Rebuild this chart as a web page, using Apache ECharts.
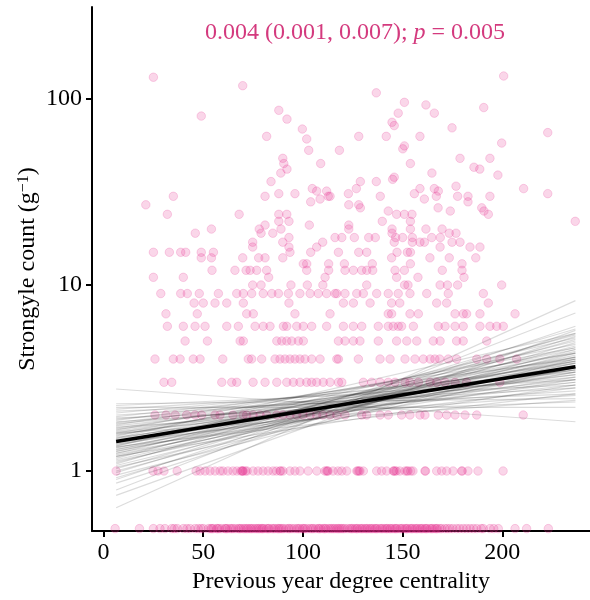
<!DOCTYPE html>
<html>
<head>
<meta charset="utf-8">
<script src="https://cdn.jsdelivr.net/npm/echarts@6/dist/echarts.min.js"></script>
<style>html,body{margin:0;padding:0;background:#fff}#c{width:590px;height:600px}</style>
</head>
<body>
<div id="c"></div>
<script>
// ---- data ----
const xTicks = [0, 50, 100, 150, 200];
const yTicks = [1, 10, 100];
const zeroPlot = 0.49; // zero counts drawn at bottom of the log axis

const count0X = [5.8, 18, 25, 28.3, 30.8, 34.2, 37, 40, 43.4, 45.9, 47.5, 50.1, 52.6, 53.8, 55.1, 56.8, 58, 59.3, 60.9, 62, 63.4, 65.1, 66.3, 67.6, 69, 70.1, 71.8, 72.5, 73.5, 75, 76, 77.6, 78.4, 79.3, 80.5, 81.8, 83, 84.4, 86, 87.2, 88.5, 90.2, 91.5, 92.7, 94.4, 95.6, 96.9, 98.5, 99.8, 101.1, 102.3, 103.6, 105.2, 106.4, 107.7, 109, 110.2, 111.5, 112.7, 113.6, 115.3, 116.1, 117.8, 118.6, 120.2, 121.1, 122.4, 123.6, 125, 126.1, 127.4, 128.6, 130, 131.1, 132.5, 133.6, 135, 136.1, 137.3, 138.6, 140, 141.1, 142.4, 143.6, 145, 146.1, 147.2, 148.6, 150, 151.2, 152.4, 153.7, 155, 156.2, 157.5, 158.7, 160, 161.2, 162.3, 163.7, 165, 166.2, 167.4, 168.7, 171.2, 173.7, 177.1, 180.4, 183.8, 187.2, 190.5, 193.8, 198, 206.4, 212.2, 223.1,
  35.5, 41.8, 48.9, 54.4, 57.2, 61.4, 64.2, 68.3, 70.9, 74.1, 76.9, 79.8, 82.6, 85.2, 87.9, 89.4, 93.3, 97.7, 100.4, 104.5, 108.2, 110.9, 114.4, 117.1, 119.4, 124.3, 126.9, 129.3, 131.8, 134.2, 136.7, 139.3, 141.9, 144.1, 146.7, 149.3, 151.9, 154.4, 156.9, 159.3, 161.8, 164.4, 166.9, 169.5, 172.4, 175.2, 178.6, 182.1, 185.5, 189.4, 195.7];
const count1X = [6.3, 24.8, 27.3, 30.3, 36.9, 46.4, 48.4, 50.9, 53.4, 55.9, 58.4, 59.9, 62.4, 64.9, 66.9, 69.5, 69.8, 70, 72, 75, 77.5, 80, 82.5, 85, 88.5, 88.9, 90, 93.5, 96, 98.5, 102.6, 107, 111, 112.3, 112.6, 115.1, 117.6, 119.5, 122, 127, 127.5, 128.6, 130.3, 137, 139.5, 142, 145.3, 145.6, 146.2, 148.6, 151.2, 152.7, 155.2, 161.2, 161.5, 167.1, 169.6, 172.1, 175.3, 179.6, 179.9, 182.8, 187.8, 200.4,
  68.9, 71.2, 86.7, 111.8, 128.1, 146.9, 152.2, 154.1];
const count2X = [25.8, 31.3, 35.9, 41.7, 45.9, 49.2, 55.9, 58.4, 64.9, 70, 71.8, 75, 78.5, 81.8, 86.9, 90, 93.5, 96.9, 100, 103.6, 106.9, 110, 113.6, 117, 121.1, 129.5, 132, 138.7, 142.8, 149.5, 153.7, 158.7, 161.2, 167.9, 172.1, 176.3, 181.3, 187.2, 210.5];
const count3X = [30.3, 34.2, 59.3, 64.3, 66.8, 75, 81, 86.9, 91.9, 95.2, 98.5, 101.9, 104.4, 106.9, 110.2, 113.6, 117.8, 119.5, 130.3, 134.5, 138.7, 142.8, 146.2, 151.2, 153.7, 157.9, 163.8, 167.1, 171.3, 176.3, 182.1, 198.8];
const count4X = [25.8, 35, 38.4, 45, 48.4, 59.8, 72.6, 74.3, 79.3, 86, 88.5, 91, 93.5, 96, 98.5, 101, 104.4, 108.6, 117, 117.8, 127.8, 138.7, 143.7, 151.2, 156.2, 160.4, 163.8, 166.2, 168.6, 172.9, 177.1, 187.2, 192.2, 198.8, 207.2];
const count5X = [40.9, 52.1, 68.5, 70.1, 86.9, 89.4, 91.9, 94.4, 97.7, 100.2, 117.8, 121.1, 125.3, 128.6, 137.8, 147, 152.1, 157.1, 165.4, 168.8, 177.1, 180.4, 192.2];
const count6X = [32, 40, 45.9, 50.9, 61.8, 67.6, 76, 80.1, 83.5, 90.2, 91.9, 96.9, 100.2, 104.4, 111.9, 120.3, 125.3, 129.5, 137.8, 142.8, 145.3, 147.8, 149.5, 155.4, 167.9, 171.3, 176.3, 180.4, 188.8, 193.8, 197.2, 200.5];
const count7X = [31.3, 47, 71.8, 75.1, 96, 113.6, 142.8, 144.5, 153.7, 157.9, 176.3, 180.4, 182.1, 188.8, 206.4];
const count8X = [45.4, 50, 55.9, 61.8, 70.1, 93, 120.3, 125.3, 133.7, 144.5, 148.6, 167.1, 172.1, 193];
const count9X = [28.7, 38.7, 42, 48, 57.6, 66.8, 70.1, 74.3, 80.1, 84.4, 87.7, 92.7, 98.5, 103.6, 107.7, 111.9, 116.1, 117, 121.1, 127, 130.3, 137, 142.8, 147.8, 153.7, 162.1, 172.9, 190.5];
const count10X = [74.8, 79, 94, 102.2, 110, 132, 151, 152.7, 168.8, 172.5, 177.6, 199.7];

const highX = [25.0, 69.8, 49.0, 87.9, 92.0, 81.8, 99.7, 101.9, 102.9, 118.3, 89.9, 90.4, 92.0, 88.9, 108.9, 84.0, 104.7, 106.9, 111.9, 108.6, 112.7, 103.9, 35.0, 81.0, 87.9, 96.0, 21.2, 32.0, 68.0, 87.9, 91.9, 87.9, 93.0, 81.0, 103.2, 78.1, 46.0, 54.1, 79.0, 84.9, 89.0, 93.0, 89.9, 74.8, 74.8, 109.9, 116.1, 93.0, 106.9,
  25.0, 33.0, 38.7, 41.2, 49.0, 55.1, 93.5, 103.9, 117.8, 49.0, 54.1, 69.8, 77.8, 81.0, 89.9, 100.2, 101.9, 112.9, 54.4, 65.9, 71.5, 73.5, 76.8, 81.8, 101.9, 112.9, 82.8, 111.1, 25.0, 40.0,
  200.7, 136.8, 150.9, 161.7, 190.7, 147.8, 165.9, 144.7, 145.8, 128.0, 141.8, 158.7, 174.8, 222.8, 199.7, 150.9, 150.1, 178.8, 193.8, 153.9, 185.8, 188.7, 164.7, 197.8, 128.8, 136.8, 145.0, 145.8, 126.8, 158.7, 165.9, 167.9, 176.8, 210.7, 222.8, 113.6, 122.8, 138.8, 155.9, 160.9, 166.9, 177.6, 182.8, 182.8, 193.8, 123.0, 128.0, 128.8, 167.8, 189.7, 190.8, 193.0, 142.8, 147.0, 150.9, 154.7, 173.9, 153.9, 139.8, 236.6, 123.0, 123.0, 144.7, 153.9, 161.7, 169.8,
  119.5, 125.8, 133.0, 136.3, 146.5, 150.0, 164.6, 168.9, 154.9, 144.7, 173.4, 176.8, 145.8, 154.9, 158.7, 160.9, 174.8, 178.8, 168.8, 183.8, 188.8, 128.0, 132.0, 147.2, 152.4, 153.9, 144.5, 163.7, 173.4, 186.7, 120.8, 134.8, 153.9, 179.8, 121.1, 125.3, 129.5, 132.0, 135.0, 146.2, 150.9, 169.9, 179.8, 147.0, 157.7, 180.8];
const highY = [131, 118, 81, 87, 78, 63, 69, 61, 53, 53, 48, 45, 42, 40, 45, 36, 33, 32, 32, 29, 30, 28, 30, 30, 31, 31, 27, 24, 24, 24, 24, 22, 22, 21, 21, 20, 19, 20, 19, 19, 20, 18, 17, 17, 16, 17, 18, 16, 16,
  15, 15, 15, 15, 15, 15, 15, 15, 15, 14, 14, 14, 14, 14, 14, 13, 13, 13, 12, 12, 12, 12, 12, 12, 12, 12, 11, 11, 11, 11,
  133, 108, 96, 93, 90, 84, 84, 75, 72, 63, 63, 63, 70, 66, 58, 56, 54, 48, 48, 45, 43, 42, 40, 39, 36, 36, 37, 38, 33, 33, 33, 32, 34, 33, 31, 30, 31, 30, 31, 29, 30, 30, 30, 28, 30, 27, 27, 26, 26, 26, 25, 24, 25, 24, 24, 24, 25, 22, 22, 22, 21, 20, 20, 20, 20, 20,
  18, 18, 18, 18, 18, 18, 18, 18, 18, 19, 19, 19, 17, 17, 17, 17, 17, 17, 16, 16, 16, 15, 15, 15, 15, 15, 14, 14, 14, 14, 13, 13, 13, 13, 12, 12, 12, 12, 12, 12, 12, 12, 12, 11, 11, 11];

// fitted lines (value at left end, value at right end)
const lineX = [6.3, 236.7];
const meanLine = [1.44, 3.64];
const drawLeft = [2.76, 2.3, 2.25, 2.2, 2.15, 2.1, 2.05, 2.0, 1.96, 1.93, 1.9, 1.87, 1.84, 1.82, 1.8, 1.77, 1.75, 1.72, 1.7, 1.68, 1.66, 1.64, 1.62, 1.6, 1.58, 1.56, 1.54, 1.52, 1.5, 1.48, 1.46, 1.45, 1.43, 1.42, 1.4, 1.39, 1.37, 1.36, 1.34, 1.33, 1.31, 1.3, 1.28, 1.27, 1.25, 1.24, 1.22, 1.2, 1.19, 1.17, 1.15, 1.13, 1.11, 1.09, 1.07, 1.05, 1.03, 1.0, 0.98, 0.95, 0.92, 0.9, 0.86, 0.79, 0.74, 0.635, 1.6, 1.35, 1.5, 1.2];
const drawRight = [1.84, 2.45, 2.9, 2.2, 3.1, 2.6, 3.4, 2.8, 3.6, 2.35, 3.2, 4.0, 2.7, 3.5, 3.0, 4.3, 3.3, 2.55, 3.8, 3.1, 4.6, 3.5, 2.9, 4.1, 3.3, 3.9, 4.8, 3.0, 3.6, 4.3, 3.4, 3.9, 2.8, 4.5, 3.7, 3.2, 4.1, 5.2, 3.5, 4.0, 3.1, 4.6, 3.8, 4.2, 3.4, 5.0, 3.9, 4.4, 3.6, 5.4, 4.1, 3.8, 4.7, 5.8, 4.3, 3.6, 5.1, 4.5, 5.5, 4.0, 4.9, 6.0, 5.3, 7.07, 5.7, 8.24, 2.4, 2.6, 5.5, 2.9];

// ---- build ----
const L = v => Math.log10(v);
const rows = [count0X, count1X, count2X, count3X, count4X, count5X, count6X, count7X, count8X, count9X, count10X];
const pts = [];
rows.forEach((xs, c) => xs.forEach(x => pts.push([x, L(c === 0 ? zeroPlot : c)])));
highX.forEach((x, i) => pts.push([x, L(highY[i])]));

const FONT = 'Liberation Serif';
const FS = 24;
const series = [{
  type: 'scatter', data: pts, symbolSize: 8.5, silent: true, z: 1,
  itemStyle: { color: 'rgba(231,41,138,0.24)', borderColor: 'rgba(231,41,138,0.24)', borderWidth: 1 }
}];
drawLeft.forEach((l, i) => series.push({
  type: 'line', data: [[lineX[0], L(l)], [lineX[1], L(drawRight[i])]], showSymbol: false, silent: true, z: 2,
  lineStyle: { color: 'rgba(0,0,0,0.14)', width: 1.2 }
}));
series.push({
  type: 'line', data: [[lineX[0], L(meanLine[0])], [lineX[1], L(meanLine[1])]], showSymbol: false, silent: true, z: 3,
  lineStyle: { color: '#000', width: 3.5 }
});

const chart = echarts.init(document.getElementById('c'), null, { renderer: 'canvas' });
chart.setOption({
  animation: false,
  backgroundColor: '#fff',
  grid: { left: 92, right: 0, top: 7, bottom: 69 },
  xAxis: {
    type: 'value', min: -5.8, max: 244,
    name: 'Previous year degree centrality', nameLocation: 'middle', nameGap: 38,
    nameTextStyle: { fontFamily: FONT, fontSize: FS, color: '#000' },
    axisLine: { onZero: false, lineStyle: { color: '#000', width: 2 } },
    axisTick: { customValues: xTicks, length: 6, lineStyle: { color: '#000', width: 2 } },
    axisLabel: { customValues: xTicks, fontFamily: FONT, fontSize: FS, color: '#000', margin: 10 },
    splitLine: { show: false }
  },
  yAxis: {
    type: 'value', min: -0.3226, max: 2.495,
    name: '{a|Strongyle count (g}{s|−1}{a|)}', nameLocation: 'middle', nameGap: 52, nameRotate: 90,
    nameMoveOverlap: false,
    nameTextStyle: { fontFamily: FONT, fontSize: FS, color: '#000',
      rich: { a: { fontFamily: FONT, fontSize: FS, color: '#000' }, s: { fontFamily: FONT, fontSize: 16, color: '#000', verticalAlign: 'top' } } },
    axisLine: { onZero: false, lineStyle: { color: '#000', width: 2 } },
    axisTick: { customValues: yTicks.map(L), length: 6, lineStyle: { color: '#000', width: 2 } },
    axisLabel: { customValues: yTicks.map(L), fontFamily: FONT, fontSize: FS, color: '#000', margin: 10,
      formatter: v => String(Math.round(Math.pow(10, v))) },
    splitLine: { show: false }
  },
  graphic: [{
    type: 'text', x: 355, y: 33,
    style: {
      text: '{a|0.004 (0.001, 0.007); }{i|p}{a| = 0.005}',
      textAlign: 'center', textVerticalAlign: 'middle',
      rich: {
        a: { fontFamily: FONT, fontSize: FS, fill: '#d43a7e' },
        i: { fontFamily: FONT, fontSize: FS, fontStyle: 'italic', fill: '#d43a7e' }
      }
    }
  }],
  series: series
});
</script>
</body>
</html>
